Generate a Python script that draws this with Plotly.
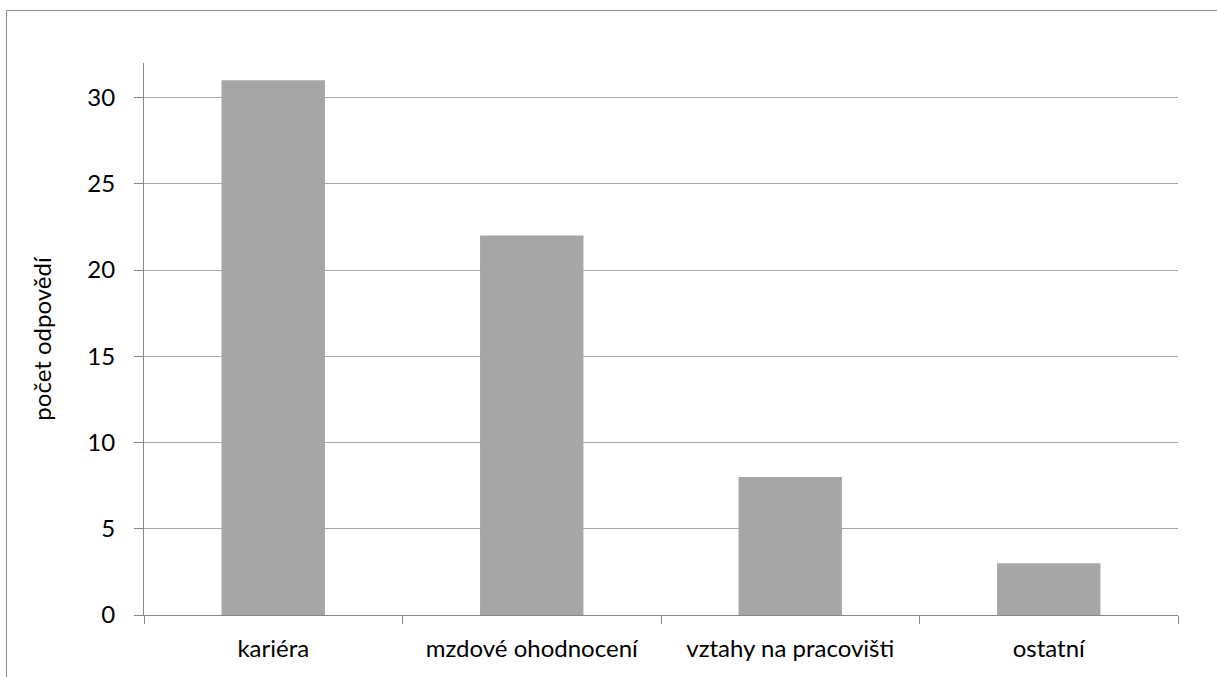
import plotly.graph_objects as go

categories = ["kariéra", "mzdové ohodnocení", "vztahy na pracovišti", "ostatní"]
counts = [31, 22, 8, 3]
y_ticks = [0, 5, 10, 15, 20, 25, 30]
y_title = "počet odpovědí"

FONT = "Lato, Carlito, 'Noto Sans', sans-serif"
AXIS_GRAY = "#868686"
GRID_GRAY = "#A6A6A6"
BAR_GRAY = "#A6A6A6"
FS = 24

fig = go.Figure(
    go.Bar(
        x=categories,
        y=counts,
        marker=dict(color=BAR_GRAY, line=dict(width=0)),
        width=0.4,
    )
)

fig.update_layout(
    width=1217,
    height=677,
    margin=dict(l=144, r=39, t=63, b=62),
    paper_bgcolor="white",
    plot_bgcolor="white",
    showlegend=False,
    font=dict(family=FONT, size=FS, color="#000000"),
    bargap=0.6,
)

fig.update_xaxes(
    showline=True,
    linecolor=AXIS_GRAY,
    linewidth=1,
    ticks="outside",
    tickson="boundaries",
    ticklen=8,
    tickcolor=AXIS_GRAY,
    showgrid=False,
    tickfont=dict(size=FS),
    ticklabelstandoff=12,
)

fig.update_yaxes(
    range=[0, 32],
    tickvals=y_ticks,
    showline=True,
    linecolor=AXIS_GRAY,
    linewidth=1,
    ticks="outside",
    ticklen=9,
    tickcolor=AXIS_GRAY,
    showgrid=True,
    gridcolor=GRID_GRAY,
    gridwidth=1,
    zeroline=False,
    tickfont=dict(size=FS),
    ticklabelstandoff=14,
    title=dict(text=y_title, font=dict(size=FS), standoff=28),
)

# outer chart frame (its right and bottom edges fall outside the page)
fig.add_shape(
    type="rect",
    xref="paper",
    yref="paper",
    x0=(6.5 - 144) / 1034,
    x1=1.2,
    y0=-0.3,
    y1=(615 - 10.5) / 552,
    line=dict(color="#8C8C8C", width=1),
    fillcolor="rgba(0,0,0,0)",
    layer="below",
)

fig.write_html("out.html")
